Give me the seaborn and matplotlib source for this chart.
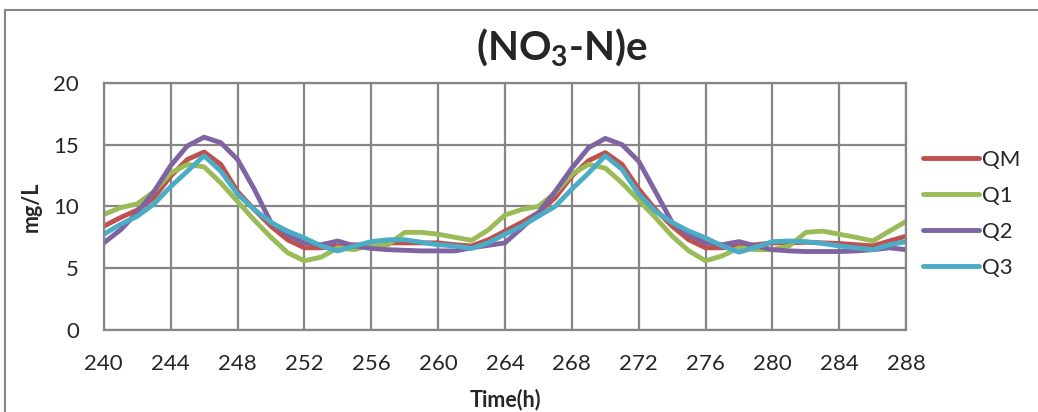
import numpy as np
import pandas as pd
import seaborn as sns
import matplotlib.pyplot as plt
from matplotlib.patches import Rectangle

# hourly values, 240..288 h
hours = list(range(240, 289))
qm = [8.4, 9.1, 9.7, 10.7, 12.45, 13.8, 14.4, 13.4, 11.2, 9.75,
      8.4, 7.3, 6.65, 6.65, 6.8, 6.9, 6.8, 7.05, 7.05, 7.05,
      7.05, 6.9, 6.8, 7.3, 8.0, 8.7, 9.5, 10.7, 12.45, 13.7,
      14.35, 13.4, 11.4, 9.75, 8.4, 7.3, 6.65, 6.65, 6.8, 6.9,
      7.05, 7.05, 7.1, 7.05, 7.0, 6.9, 6.8, 7.2, 7.6]
q1 = [9.35, 9.9, 10.2, 11.2, 12.7, 13.4, 13.2, 11.9, 10.4, 8.9,
      7.5, 6.25, 5.6, 5.9, 6.65, 6.5, 6.9, 6.9, 7.9, 7.9,
      7.75, 7.5, 7.25, 8.1, 9.3, 9.75, 10.0, 11.1, 12.6, 13.4,
      13.1, 11.9, 10.5, 9.1, 7.6, 6.4, 5.6, 6.0, 6.65, 6.5,
      6.5, 6.8, 7.9, 8.0, 7.75, 7.5, 7.2, 8.0, 8.8]
q2 = [7.05, 8.1, 9.5, 11.2, 13.3, 14.9, 15.6, 15.15, 13.8, 11.4,
      8.7, 7.7, 7.05, 6.9, 7.2, 6.8, 6.6, 6.5, 6.45, 6.4,
      6.4, 6.4, 6.65, 6.85, 7.05, 8.25, 9.5, 11.2, 13.1, 14.75,
      15.5, 15.0, 13.65, 11.2, 8.7, 7.7, 7.05, 6.9, 7.15, 6.8,
      6.5, 6.4, 6.35, 6.35, 6.35, 6.4, 6.5, 6.65, 6.5]
q3 = [7.75, 8.55, 9.2, 10.2, 11.6, 12.85, 14.1, 12.85, 11.0, 9.75,
      8.7, 8.0, 7.45, 6.8, 6.4, 6.8, 7.15, 7.3, 7.3, 7.1,
      6.9, 6.8, 6.6, 7.05, 7.75, 8.4, 9.2, 10.0, 11.4, 12.7,
      14.1, 13.0, 11.0, 9.6, 8.7, 8.0, 7.45, 6.8, 6.3, 6.7,
      7.15, 7.2, 7.15, 7.0, 6.8, 6.65, 6.5, 6.9, 7.15]
series = ["QM", "Q1", "Q2", "Q3"]
colors = ["#C0504D", "#9BBB59", "#8064A2", "#4BACC6"]

df = pd.DataFrame({"Time": hours, "QM": qm, "Q1": q1, "Q2": q2, "Q3": q3})
long = df.melt(id_vars="Time", var_name="series", value_name="val")

sns.set_style("white")
plt.rcParams["font.family"] = ["Lato", "DejaVu Sans"]
plt.rcParams["mathtext.fontset"] = "custom"
plt.rcParams["mathtext.bf"] = "Lato:bold"
plt.rcParams["mathtext.rm"] = "Lato:bold"
plt.rcParams["mathtext.default"] = "bf"

fig = plt.figure(figsize=(10.38, 4.12), dpi=100)
ax = fig.add_axes([0.1, 0.199, 0.773, 0.6])

sns.lineplot(data=long, x="Time", y="val", hue="series", hue_order=series,
             palette=colors, linewidth=3.5, ax=ax)

ax.set_xlim(240, 288)
ax.set_ylim(0, 20)
ax.set_xticks(range(240, 289, 4))
ax.set_yticks(range(0, 21, 5))
ax.grid(True, color="#868686", linewidth=1.6)
for s in ax.spines.values():
    s.set_color("#868686")
    s.set_linewidth(1.6)
ax.tick_params(axis="x", labelsize=16, length=0, pad=17)
ax.tick_params(axis="y", labelsize=16, length=0, pad=18)
ax.set_xlabel("Time(h)", fontsize=15.5, fontweight="bold", labelpad=11)
ax.set_ylabel("mg/L", fontsize=15.5, fontweight="bold", labelpad=8)

leg = ax.legend(loc="center left", bbox_to_anchor=(0.996, 0.47), frameon=False,
                fontsize=16, handlelength=2.5, handletextpad=0.15,
                labelspacing=0.72)
for h in leg.get_lines():
    h.set_linewidth(3.5)
    h.set_solid_capstyle("round")

fig.text(0.541, 0.885, "(NO$_3$-N)e", ha="center", va="center",
         fontsize=29, fontweight="bold")

# chart-area border
fig.patches.append(Rectangle((5 / 1038, -0.1), 1.2, 1.1 - 10 / 412,
                             transform=fig.transFigure, fill=False,
                             edgecolor="#868686", linewidth=1.5))

fig.savefig("out.png", dpi=100)
